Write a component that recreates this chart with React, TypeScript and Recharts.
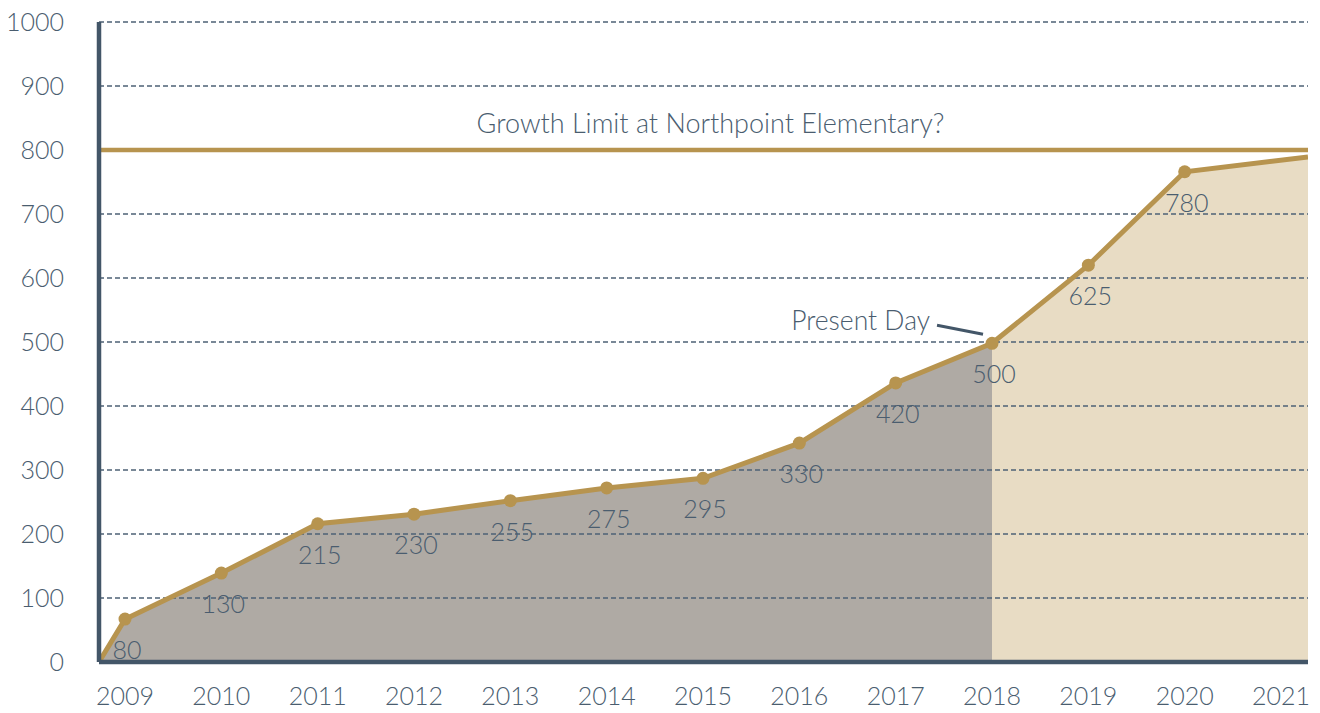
import React from "react";
import {
  ComposedChart,
  Area,
  Line,
  XAxis,
  YAxis,
  ReferenceLine,
  ReferenceDot,
  LabelList,
} from "recharts";

// enrolment by year (dot positions) and the numbers printed next to them
const years = [2009, 2010, 2011, 2012, 2013, 2014, 2015, 2016, 2017, 2018, 2019, 2020];
const values = [67, 139, 216, 231, 252, 272, 287, 342, 436, 498, 620, 766];
const valueLabels = ["80", "130", "215", "230", "255", "275", "295", "330", "420", "500", "625", "780"];

// line runs from the axis corner to the right edge
const startPoint = { year: 2008.73, value: 0 };
const endPoint = { year: 2021.28, value: 789 };

const presentYear = 2018;
const growthLimit = 800;
const yTicks = [0, 100, 200, 300, 400, 500, 600, 700, 800, 900, 1000];
const xTicks = [2009, 2010, 2011, 2012, 2013, 2014, 2015, 2016, 2017, 2018, 2019, 2020, 2021];

const GOLD = "#b7944f";
const SLATE = "#435668";
const TEXT = "#4a5d6f";
const FONT = "Lato, 'Open Sans', sans-serif";

const rows = [
  { year: startPoint.year, value: startPoint.value, label: undefined as string | undefined },
  ...years.map((y, i) => ({ year: y, value: values[i], label: valueLabels[i] })),
  { year: endPoint.year, value: endPoint.value, label: undefined as string | undefined },
].map((r) => ({
  ...r,
  past: r.year <= presentYear ? r.value : null,
  future: r.year >= presentYear ? r.value : null,
}));

const presentValue = values[years.indexOf(presentYear)];

const renderDot = (p: any) => {
  if (!p.payload || !p.payload.label) return <g key={`d${p.index}`} />;
  return <circle key={`d${p.index}`} cx={p.cx} cy={p.cy} r={6.5} fill={GOLD} />;
};

const renderValueLabel = (p: any) => {
  if (!p.value) return null;
  return (
    <text
      x={p.x + 2}
      y={p.y + 40}
      textAnchor="middle"
      fontFamily={FONT}
      fontWeight={300}
      fontSize={25}
      fill={TEXT}
    >
      {p.value}
    </text>
  );
};

const PresentDay = (p: any) => {
  const { cx, cy } = p;
  return (
    <g>
      <text
        x={cx - 62}
        y={cy - 13}
        textAnchor="end"
        fontFamily={FONT}
        fontWeight={300}
        fontSize={26.5}
        fill={TEXT}
      >
        Present Day
      </text>
      <line x1={cx - 55} y1={cy - 18} x2={cx - 9} y2={cy - 9} stroke={SLATE} strokeWidth={3} />
    </g>
  );
};

const LimitLabel = (p: any) => {
  const vb = p.viewBox;
  return (
    <text
      x={vb.x + vb.width / 2 + 7}
      y={vb.y - 17}
      textAnchor="middle"
      fontFamily={FONT}
      fontWeight={300}
      fontSize={27}
      fill={TEXT}
    >
      Growth Limit at Northpoint Elementary?
    </text>
  );
};

export default function App() {
  return (
    <div style={{ position: "absolute", left: 0, top: 0, background: "#fff" }}>
      <ComposedChart
        width={1320}
        height={713}
        data={rows}
        margin={{ top: 22, right: 12, bottom: 11, left: 19 }}
      >
        <XAxis
          dataKey="year"
          type="number"
          domain={[startPoint.year, endPoint.year]}
          ticks={xTicks}
          allowDataOverflow
          height={40}
          tickLine={false}
          tickSize={0}
          tickMargin={25}
          axisLine={{ stroke: SLATE, strokeWidth: 4.5 }}
          tick={{ fill: TEXT, fontSize: 25, fontFamily: FONT, fontWeight: 300 }}
        />
        <YAxis
          type="number"
          domain={[0, 1000]}
          ticks={yTicks}
          width={80}
          tickLine={false}
          tickSize={0}
          tickMargin={35}
          axisLine={{ stroke: SLATE, strokeWidth: 4.5 }}
          tick={{ fill: TEXT, fontSize: 25, fontFamily: FONT, fontWeight: 300 }}
        />
        <Area
          type="linear"
          dataKey="past"
          stroke="none"
          fill="#afaaa4"
          fillOpacity={1}
          isAnimationActive={false}
          connectNulls={false}
        />
        <Area
          type="linear"
          dataKey="future"
          stroke="none"
          fill="#e8dcc4"
          fillOpacity={1}
          isAnimationActive={false}
          connectNulls={false}
        />
        {yTicks
          .filter((t) => t > 0)
          .map((t) => (
            <ReferenceLine
              key={t}
              y={t}
              stroke="#4d6276"
              strokeWidth={1.5}
              strokeDasharray="5 3"
            />
          ))}
        <ReferenceLine
          y={growthLimit}
          stroke={GOLD}
          strokeWidth={4.5}
          label={<LimitLabel />}
        />
        <Line
          type="linear"
          dataKey="value"
          stroke={GOLD}
          strokeWidth={5}
          dot={renderDot}
          activeDot={false}
          isAnimationActive={false}
        >
          <LabelList dataKey="label" content={renderValueLabel} />
        </Line>
        <ReferenceDot
          x={presentYear}
          y={presentValue}
          r={0}
          shape={(p: any) => <PresentDay {...p} />}
        />
      </ComposedChart>
    </div>
  );
}
